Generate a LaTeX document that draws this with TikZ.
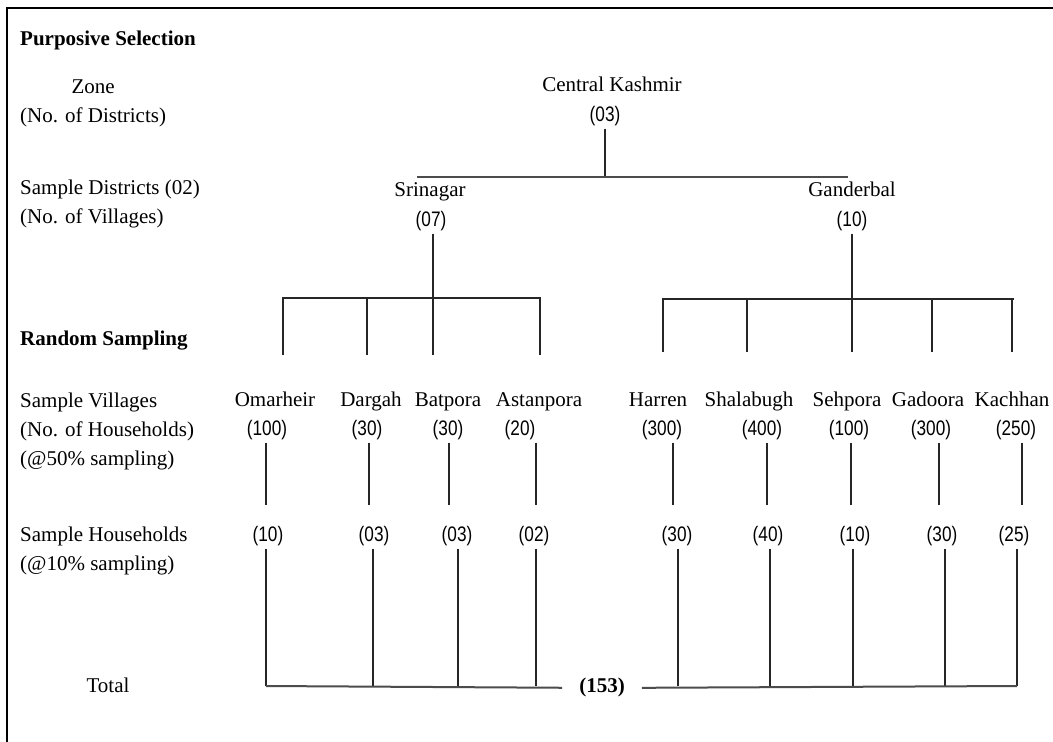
\documentclass[tikz,border=0pt]{standalone}
\usepackage{fontspec}
\setmainfont{Liberation Serif}
\newfontfamily\narrowsf[FakeStretch=0.82]{Liberation Sans}
\usetikzlibrary{positioning}

\begin{document}
\begin{tikzpicture}[x=1pt,y=-1pt,
  txt/.style={inner sep=2pt,text height=14pt,text depth=5pt,font=\fontsize{21}{29}\selectfont},
  num/.style={inner sep=2pt,text height=14pt,text depth=5pt,font=\fontsize{21}{29}\selectfont\narrowsf},
  head/.style={txt,anchor=west,font=\fontsize{21}{29}\selectfont\bfseries},
  side/.style={inner sep=2pt,anchor=west,align=left,font=\fontsize{21}{29}\selectfont},
  tie/.style={line width=1.1pt,black!85},
  bar/.style={line width=2pt,black!70},
  frame/.style={line width=2.5pt}]
  \fill[white] (0,0) rectangle (1053,742);
  \useasboundingbox (0,0) rectangle (1053,742);
  \draw[frame] (7,742) -- (7,8) -- (1053,8);

  % row labels on the left
  \node[head] (purp) at (18,41) {Purposive Selection};
  \node[side,align=center] (zone) at (18,103) {Zone\\(No. of Districts)};
  \node[side] (dist) at (18,204) {Sample Districts (02)\\(No. of Villages)};
  \node[head] (rand) at (18,341) {Random Sampling};
  \node[side] (vill) at (18,431) {Sample Villages\\(No. of Households)\\(@50\% sampling)};
  \node[side] (hh) at (18,551) {Sample Households\\(@10\% sampling)};
  \node[txt] (totlbl) at (108,688) {Total};

  % zone and districts
  \node[txt] (kash) at (612,87) {Central Kashmir};
  \node[num] (kashN) at (605,117) {(03)};
  \node[txt] (sri) at (430,192) {Srinagar};
  \node[num] (sriN) at (431,222) {(07)};
  \node[txt] (gan) at (852,192) {Ganderbal};
  \node[num] (ganN) at (852,222) {(10)};
  \coordinate (kashJ) at (605,177);
  \coordinate (distL) at (417,177);
  \coordinate (distR) at (848,177);
  \draw[tie] (kashN) -- (kashJ);
  \draw[bar] (distL) -- (distR);

  % Srinagar branch
  \coordinate (sj1) at (283,298);
  \coordinate (sj2) at (367,298);
  \coordinate (sj4) at (540,298);
  \coordinate (sd1) at (283,355);
  \coordinate (sd2) at (367,355);
  \coordinate (sd3) at (433,355);
  \coordinate (sd4) at (540,355);
  \draw[tie] (sriN.south -| sd3) -- (sd3);
  \draw[tie] (sd1) -- (sj1) -- (sj4) -- (sd4);
  \draw[tie] (sj2) -- (sd2);

  % Ganderbal branch
  \coordinate (gj1) at (663,299);
  \coordinate (gj2) at (747,299);
  \coordinate (gj4) at (932,299);
  \coordinate (gj5) at (1014,299);
  \coordinate (gd1) at (663,352);
  \coordinate (gd2) at (747,352);
  \coordinate (gd3) at (852,352);
  \coordinate (gd4) at (932,352);
  \coordinate (gd5) at (1012,352);
  \draw[tie] (ganN) -- (gd3);
  \draw[tie] (gd1) -- (gj1) -- (gj5);
  \draw[tie] (gj2) -- (gd2);
  \draw[tie] (gj4) -- (gd4);
  \draw[tie] (gj5 -| gd5) -- (gd5);

  % sample villages
  \node[txt] (v1) at (275,402) {Omarheir};
  \node[txt] (v2) at (371,402) {Dargah};
  \node[txt] (v3) at (448,402) {Batpora};
  \node[txt] (v4) at (539,402) {Astanpora};
  \node[txt] (v5) at (658,402) {Harren};
  \node[txt] (v6) at (749,402) {Shalabugh};
  \node[txt] (v7) at (847,402) {Sehpora};
  \node[txt] (v8) at (928,402) {Gadoora};
  \node[txt] (v9) at (1012,402) {Kachhan};
  \node[num] (c1) at (267,431) {(100)};
  \node[num] (c2) at (367,431) {(30)};
  \node[num] (c3) at (448,431) {(30)};
  \node[num] (c4) at (520,431) {(20)};
  \node[num] (c5) at (662,431) {(300)};
  \node[num] (c6) at (762,431) {(400)};
  \node[num] (c7) at (849,431) {(100)};
  \node[num] (c8) at (931,431) {(300)};
  \node[num] (c9) at (1016,431) {(250)};
  \coordinate (b1) at (266,505);
  \coordinate (b2) at (369,505);
  \coordinate (b3) at (449,505);
  \coordinate (b4) at (536,505);
  \coordinate (b5) at (673,505);
  \coordinate (b6) at (767,505);
  \coordinate (b7) at (851,505);
  \coordinate (b8) at (939,505);
  \coordinate (b9) at (1022,505);
  \draw[tie] (c1.south -| b1) -- (b1);
  \draw[tie] (c2.south -| b2) -- (b2);
  \draw[tie] (c3.south -| b3) -- (b3);
  \draw[tie] (c4.south -| b4) -- (b4);
  \draw[tie] (c5.south -| b5) -- (b5);
  \draw[tie] (c6.south -| b6) -- (b6);
  \draw[tie] (c7.south -| b7) -- (b7);
  \draw[tie] (c8.south -| b8) -- (b8);
  \draw[tie] (c9.south -| b9) -- (b9);

  % sample households
  \node[num] (h1) at (268,537) {(10)};
  \node[num] (h2) at (374,537) {(03)};
  \node[num] (h3) at (457,537) {(03)};
  \node[num] (h4) at (534,537) {(02)};
  \node[num] (h5) at (677,537) {(30)};
  \node[num] (h6) at (768,537) {(40)};
  \node[num] (h7) at (855,537) {(10)};
  \node[num] (h8) at (942,537) {(30)};
  \node[num] (h9) at (1014,537) {(25)};
  \coordinate (t1) at (266,686);
  \coordinate (t2) at (373,686);
  \coordinate (t3) at (458,686);
  \coordinate (t4) at (536,686);
  \coordinate (t5) at (678,686);
  \coordinate (t6) at (770,686);
  \coordinate (t7) at (853,686);
  \coordinate (t8) at (945,686);
  \coordinate (t9) at (1017,686);
  \draw[tie] (h1.south -| t1) -- (t1);
  \draw[tie] (h2.south -| t2) -- (t2);
  \draw[tie] (h3.south -| t3) -- (t3);
  \draw[tie] (h4.south -| t4) -- (t4);
  \draw[tie] (h5.south -| t5) -- (t5);
  \draw[tie] (h6.south -| t6) -- (t6);
  \draw[tie] (h7.south -| t7) -- (t7);
  \draw[tie] (h8.south -| t8) -- (t8);
  \draw[tie] (h9.south -| t9) -- (t9);

  % total
  \node[txt,inner xsep=17pt,font=\fontsize{21}{29}\selectfont\bfseries] (sum) at (602,688) {(153)};
  \draw[bar] (t1) -- (sum);
  \draw[bar] (sum) -- (t9);
\end{tikzpicture}
\end{document}
